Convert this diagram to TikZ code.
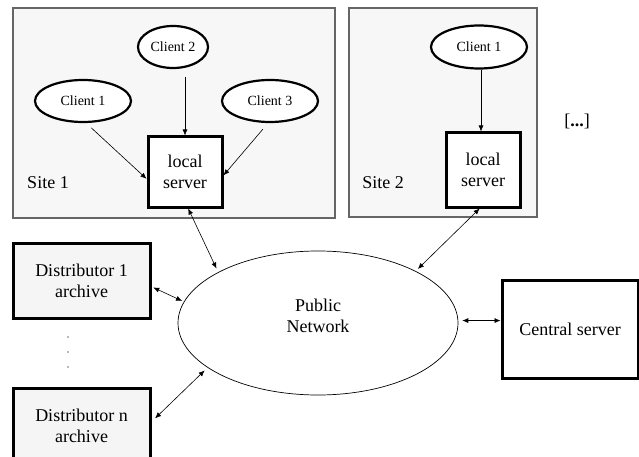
\documentclass[tikz,border=0pt]{standalone}
\usepackage{fontspec}
\setmainfont{Liberation Serif}
\usetikzlibrary{shapes.geometric,arrows.meta}

\begin{document}
\begin{tikzpicture}[x=1pt,y=-1pt,
  every node/.style={font=\fontsize{18}{21}\selectfont},
  sitebox/.style={draw=black!60, line width=1.1pt, fill=black!3, rectangle, inner sep=0pt},
  sitelabel/.style={inner sep=0pt},
  client/.style={draw, ellipse, line width=2.2pt, fill=white, inner sep=0pt,
    font=\fontsize{14}{16}\selectfont},
  server/.style={draw, rectangle, line width=3pt, fill=white, inner sep=0pt, align=center},
  archive/.style={draw, rectangle, line width=3pt, fill=black!4, inner sep=0pt,
    align=center, minimum width=137, minimum height=75},
  cloud/.style={draw, ellipse, line width=0.7pt, fill=white, inner sep=0pt,
    minimum width=280, minimum height=144},
  link/.style={line width=0.6pt, -{Latex[length=6pt,width=5pt]}},
  duplex/.style={line width=0.6pt, {Latex[length=6pt,width=5pt]}-{Latex[length=6pt,width=5pt]}},
]
% page and background
\fill[white] (0,0) rectangle (639,457);
\useasboundingbox (0,0) rectangle (639,457);

% ---- Site 1 ----
\node[sitebox, minimum width=322, minimum height=210] (site1) at (174,113) {};
\node[sitelabel] (site1lbl) at (48,183) {Site 1};
\node[client, minimum width=96, minimum height=42] (s1c1) at (83,101) {Client 1};
\node[client, minimum width=70, minimum height=42] (s1c2) at (173,47) {Client 2};
\node[client, minimum width=96, minimum height=42] (s1c3) at (270,101) {Client 3};
\node[server, minimum width=74, minimum height=70] (srv1) at (185,172) {local\\server};

\draw[link, shorten <=7pt] (s1c1.-82) -- (srv1.-170);
\draw[link, shorten <=8pt] (s1c2.south -| srv1.north) -- (srv1.north);
\draw[link, shorten <=8pt] (s1c3.-95) -- (srv1.-5);

% ---- Site 2 ----
\node[sitebox, minimum width=188, minimum height=209] (site2) at (443,112.5) {};
\node[sitelabel] (site2lbl) at (383,183) {Site 2};
\node[client, minimum width=96, minimum height=43] (s2c1) at (479,47) {Client 1};
\node[server, minimum width=74, minimum height=74] (srv2) at (483,170) {local\\server};

\draw[link] (s2c1.south -| 481,0) -- (srv2.north -| 481,0);

% further sites
\node (more) at (577,121) {[\textbf{...}]};

% ---- Public network ----
\node[cloud] (net) at (318,323) {};
\node[align=center, inner sep=0pt] (netlbl) at (318,316) {Public\\Network};

% ---- Distributor archives ----
\node[archive] (dist1) at (81.5,280.5) {Distributor 1\\archive};
\node[archive] (distn) at (81.5,425.5) {Distributor n\\archive};
\foreach \yy in {337,352,367}
  \fill[black!55] (68,\yy) circle (0.8);

% ---- Central server ----
\node[server, minimum width=136, minimum height=98] (central) at (570,329) {Central server};

% ---- links to the public network ----
\draw[duplex, shorten >=4pt] (srv1.-85) -- (net.153);
\draw[duplex, shorten >=3pt] (srv2.-95) -- (net.28);
\draw[duplex, shorten <=2pt, shorten >=2pt] (dist1.-5) -- (net.171);
\draw[duplex, shorten <=5pt, shorten >=4pt] (distn.3) -- (net.202);
\draw[duplex, shorten <=4pt] (net.1) -- (net.1 -| central.west);
\end{tikzpicture}
\end{document}
